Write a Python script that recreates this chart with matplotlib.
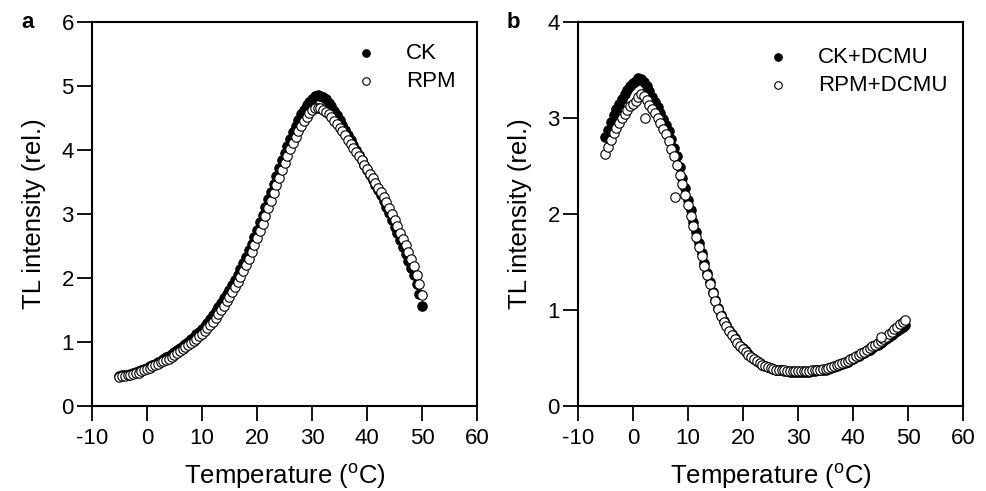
import numpy as np
import matplotlib
matplotlib.use("Agg")
import matplotlib.pyplot as plt

plt.rcParams["font.family"] = ["Liberation Sans", "DejaVu Sans"]
plt.rcParams["axes.unicode_minus"] = False

# =====================================================
# Dados (TL, intensidade relativa)
# =====================================================

# grade de temperatura de leitura (passo de 0.5 °C)
temp_a = np.arange(-5.0, 50.01, 0.5)
temp_b = np.arange(-5.0, 49.51, 0.5)

ck = [
    0.47, 0.48, 0.48, 0.49, 0.50, 0.51, 0.53, 0.54, 0.56, 0.58,
    0.60, 0.62, 0.64, 0.66, 0.68, 0.70, 0.73, 0.76, 0.78, 0.81,
    0.84, 0.87, 0.90, 0.93, 0.97, 1.00, 1.04, 1.08, 1.12, 1.16,
    1.20, 1.25, 1.30, 1.36, 1.42, 1.48, 1.54, 1.61, 1.68, 1.75,
    1.82, 1.89, 1.97, 2.05, 2.14, 2.23, 2.33, 2.43, 2.53, 2.64,
    2.75, 2.87, 2.99, 3.11, 3.23, 3.35, 3.47, 3.60, 3.72, 3.84,
    3.95, 4.06, 4.17, 4.28, 4.38, 4.47, 4.56, 4.63, 4.70, 4.75,
    4.80, 4.84, 4.86, 4.85, 4.83, 4.79, 4.74, 4.68, 4.61, 4.54,
    4.47, 4.39, 4.31, 4.23, 4.15, 4.08, 4.00, 3.92, 3.85, 3.77,
    3.69, 3.61, 3.53, 3.45, 3.37, 3.29, 3.20, 3.11, 3.01, 2.91,
    2.80, 2.70, 2.60, 2.49, 2.38, 2.27, 2.16, 2.04, 1.90, 1.75,
    1.57,
]

rpm = [
    0.46, 0.47, 0.47, 0.48, 0.49, 0.50, 0.51, 0.52, 0.54, 0.56,
    0.58, 0.60, 0.62, 0.64, 0.66, 0.68, 0.70, 0.72, 0.74, 0.77,
    0.80, 0.83, 0.86, 0.89, 0.92, 0.95, 0.98, 1.01, 1.05, 1.09,
    1.13, 1.17, 1.22, 1.27, 1.32, 1.38, 1.44, 1.50, 1.57, 1.64,
    1.71, 1.78, 1.86, 1.94, 2.02, 2.11, 2.20, 2.30, 2.40, 2.51,
    2.62, 2.73, 2.85, 2.97, 3.09, 3.21, 3.33, 3.45, 3.57, 3.69,
    3.80, 3.91, 4.01, 4.11, 4.21, 4.30, 4.38, 4.46, 4.52, 4.58,
    4.62, 4.65, 4.66, 4.65, 4.63, 4.60, 4.56, 4.51, 4.46, 4.40,
    4.35, 4.29, 4.23, 4.16, 4.10, 4.03, 3.97, 3.90, 3.84, 3.77,
    3.70, 3.63, 3.56, 3.49, 3.41, 3.34, 3.26, 3.18, 3.09, 3.00,
    2.91, 2.81, 2.71, 2.61, 2.51, 2.40, 2.29, 2.18, 2.05, 1.90,
    1.74,
]

ck_dcmu = [
    2.80, 2.88, 2.96, 3.03, 3.09, 3.15, 3.20, 3.25, 3.29, 3.33,
    3.36, 3.39, 3.42, 3.41, 3.38, 3.33, 3.28, 3.22, 3.17, 3.11,
    3.05, 2.99, 2.93, 2.86, 2.78, 2.69, 2.60, 2.49, 2.38, 2.27,
    2.15, 2.04, 1.92, 1.81, 1.70, 1.59, 1.49, 1.39, 1.29, 1.19,
    1.10, 1.02, 0.95, 0.89, 0.84, 0.79, 0.75, 0.71, 0.67, 0.63,
    0.60, 0.57, 0.54, 0.51, 0.49, 0.47, 0.45, 0.43, 0.42, 0.41,
    0.40, 0.39, 0.38, 0.37, 0.37, 0.36, 0.36, 0.35, 0.35, 0.35,
    0.35, 0.35, 0.35, 0.35, 0.35, 0.36, 0.36, 0.37, 0.37, 0.38,
    0.38, 0.39, 0.40, 0.41, 0.42, 0.43, 0.44, 0.45, 0.46, 0.48,
    0.49, 0.51, 0.52, 0.54, 0.55, 0.57, 0.58, 0.60, 0.62, 0.64,
    0.66, 0.68, 0.70, 0.72, 0.74, 0.76, 0.78, 0.80, 0.82, 0.84,
]

rpm_dcmu = [
    2.62, 2.70, 2.77, 2.84, 2.90, 2.95, 3.00, 3.04, 3.08, 3.12,
    3.15, 3.18, 3.22, 3.25, 3.23, 3.19, 3.14, 3.09, 3.05, 3.00,
    2.95, 2.89, 2.83, 2.76, 2.68, 2.60, 2.51, 2.41, 2.31, 2.20,
    2.09, 1.98, 1.87, 1.76, 1.66, 1.56, 1.46, 1.36, 1.27, 1.18,
    1.09, 1.01, 0.94, 0.88, 0.83, 0.78, 0.74, 0.70, 0.66, 0.62,
    0.59, 0.56, 0.53, 0.51, 0.49, 0.47, 0.45, 0.43, 0.42, 0.41,
    0.40, 0.39, 0.38, 0.38, 0.37, 0.37, 0.36, 0.36, 0.36, 0.36,
    0.36, 0.36, 0.36, 0.36, 0.36, 0.37, 0.37, 0.38, 0.38, 0.39,
    0.39, 0.40, 0.41, 0.42, 0.43, 0.44, 0.45, 0.46, 0.47, 0.49,
    0.50, 0.52, 0.53, 0.55, 0.56, 0.58, 0.60, 0.62, 0.64, 0.66,
    0.68, 0.70, 0.72, 0.75, 0.77, 0.80, 0.82, 0.85, 0.87, 0.90,
]

# pontos isolados (RPM+DCMU) fora da curva
rpm_dcmu_out_t = [2.2, 7.6, 45.0]
rpm_dcmu_out_v = [3.00, 2.18, 0.72]

FS_TICK = 16
FS_LABEL = 18.5
FS_LEG = 16
MS = 46


def estilo_eixo(ax, ymax, yticks):
    ax.set_xlim(-10, 60)
    ax.set_ylim(0, ymax)
    ax.set_xticks(range(-10, 61, 10))
    ax.set_yticks(yticks)
    ax.tick_params(axis="both", direction="out", length=11, width=1.3,
                   labelsize=FS_TICK, top=False, right=False)
    ax.tick_params(axis="x", pad=5)
    ax.tick_params(axis="y", pad=2)
    for s in ax.spines.values():
        s.set_linewidth(1.5)
    ax.set_xlabel("Temperature ($\\mathregular{^o}$C)", fontsize=FS_LABEL, labelpad=9)
    ax.set_ylabel("TL intensity (rel.)", fontsize=FS_LABEL, labelpad=11)


fig = plt.figure(figsize=(9.87, 4.91), dpi=100)
ax_a = fig.add_axes([0.0932, 0.1731, 0.3901, 0.7821])
ax_b = fig.add_axes([0.5856, 0.1731, 0.3901, 0.7821])

# painel a
ax_a.scatter(temp_a, ck, s=MS, facecolor="black", edgecolor="black",
             linewidth=0.8, label="CK", zorder=3)
ax_a.scatter(temp_a, rpm, s=MS, facecolor="white", edgecolor="black",
             linewidth=0.8, label="RPM", zorder=4)
estilo_eixo(ax_a, 6, range(0, 7))
ax_a.legend(loc="upper right", bbox_to_anchor=(0.985, 0.985), frameon=False,
            fontsize=FS_LEG, handletextpad=0.8, labelspacing=0.3,
            markerscale=0.8, borderaxespad=0.3)

# painel b
ax_b.scatter(temp_b, ck_dcmu, s=MS, facecolor="black", edgecolor="black",
             linewidth=0.8, label="CK+DCMU", zorder=3)
ax_b.scatter(list(temp_b) + rpm_dcmu_out_t, rpm_dcmu + rpm_dcmu_out_v, s=MS,
             facecolor="white", edgecolor="black", linewidth=0.8,
             label="RPM+DCMU", zorder=4)
estilo_eixo(ax_b, 4, range(0, 5))
ax_b.legend(loc="upper right", bbox_to_anchor=(1.0, 0.975), frameon=False,
            fontsize=FS_LEG, handletextpad=0.8, labelspacing=0.3,
            markerscale=0.8, borderaxespad=0.3)

fig.text(0.028, 0.955, "a", fontsize=16, fontweight="bold", va="center", ha="center")
fig.text(0.520, 0.955, "b", fontsize=16, fontweight="bold", va="center", ha="center")

fig.savefig("out.png", dpi=100)
